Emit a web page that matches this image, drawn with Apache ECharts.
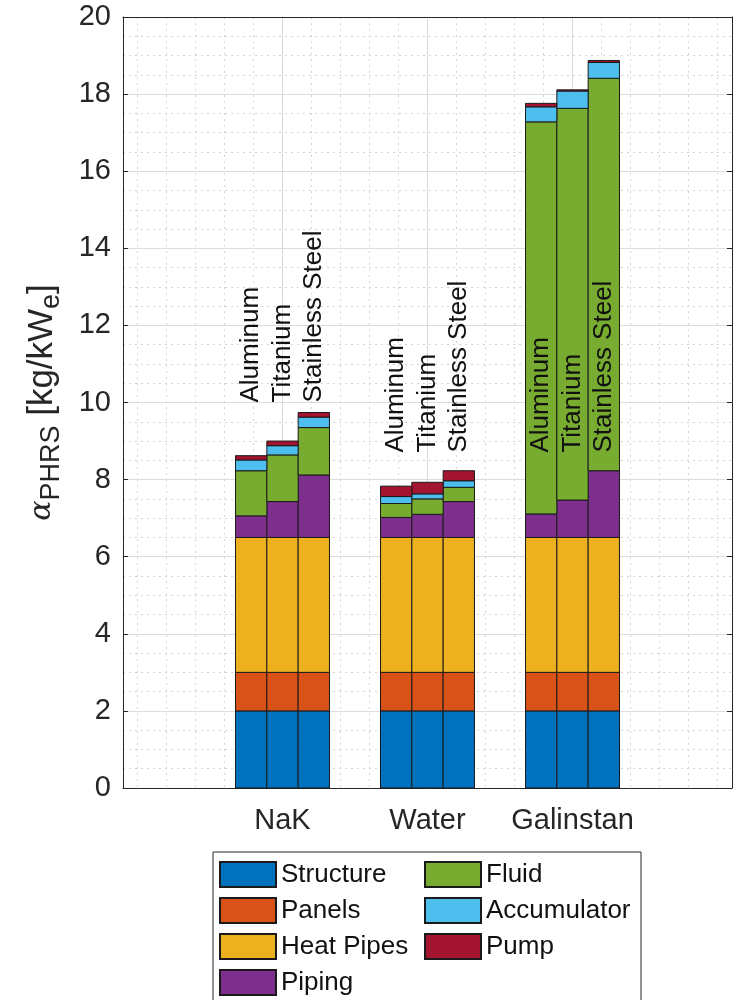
<!DOCTYPE html>
<html>
<head>
<meta charset="utf-8">
<script src="https://cdn.jsdelivr.net/npm/echarts@6/dist/echarts.min.js"></script>
<style>
  html, body { margin: 0; padding: 0; background: #fff; }
  #chart { width: 739px; height: 1000px; }
</style>
</head>
<body>
<div id="chart"></div>
<script>
// categories
const fluids = ["NaK", "Water", "Galinstan"];
const materials = ["Aluminum", "Titanium", "Stainless Steel"];
const components = ["Structure", "Panels", "Heat Pipes", "Piping", "Fluid", "Accumulator", "Pump"];
const colors = ["#0072BD", "#D95319", "#EDB120", "#7E2F8E", "#77AC30", "#4DBEEE", "#A2142F"];

// values, order: NaK (Al, Ti, SS), Water (Al, Ti, SS), Galinstan (Al, Ti, SS)
const structure = [2, 2, 2, 2, 2, 2, 2, 2, 2];
const panels = [1, 1, 1, 1, 1, 1, 1, 1, 1];
const heatPipes = [3.5, 3.5, 3.5, 3.5, 3.5, 3.5, 3.5, 3.5, 3.5];
const piping = [0.56, 0.93, 1.62, 0.52, 0.6, 0.93, 0.61, 0.97, 1.73];
const fluid = [1.17, 1.21, 1.23, 0.36, 0.4, 0.37, 10.17, 10.16, 10.18];
const accumulator = [0.28, 0.24, 0.27, 0.18, 0.13, 0.17, 0.39, 0.45, 0.41];
const pump = [0.11, 0.12, 0.12, 0.27, 0.3, 0.26, 0.09, 0.03, 0.05];

// bar positions on the x axis
const groupPos = [1, 2, 3];
const barOffsets = [-0.216, 0, 0.216];
const barWidth = 0.216;

// where the rotated material labels start, per fluid
const labelBase = [10.0, 8.7, 8.7];

// axis ticks
const xMinorTicks = [0, 0.2, 0.4, 0.6, 0.8, 1, 1.2, 1.4, 1.6, 1.8, 2, 2.2, 2.4, 2.6, 2.8, 3, 3.2, 3.4, 3.6, 3.8, 4];

const fontFam = '"Liberation Sans", Arial, Helvetica, sans-serif';
const values = [structure, panels, heatPipes, piping, fluid, accumulator, pump];

// stack the components
let running = [0, 0, 0, 0, 0, 0, 0, 0, 0];
const barSeries = components.map((name, ci) => {
  const data = [];
  values[ci].forEach((v, i) => {
    const g = Math.floor(i / 3);
    const m = i % 3;
    data.push([groupPos[g] + barOffsets[m], running[i], running[i] + v]);
    running[i] += v;
  });
  return {
    name: name,
    type: "custom",
    z: 3,
    itemStyle: { color: colors[ci], borderColor: "#1a1a1a", borderWidth: 1 },
    encode: { x: 0, y: [1, 2] },
    data: data,
    renderItem: (params, api) => {
      const x = api.value(0);
      const p0 = api.coord([x - barWidth / 2, api.value(2)]);
      const p1 = api.coord([x + barWidth / 2, api.value(1)]);
      return {
        type: "rect",
        shape: { x: p0[0], y: p0[1], width: p1[0] - p0[0], height: p1[1] - p0[1] },
        style: { fill: colors[ci], stroke: "#1a1a1a", lineWidth: 1 },
      };
    },
  };
});

const labelData = [];
groupPos.forEach((gx, g) => {
  barOffsets.forEach((off, m) => {
    labelData.push([gx + off, labelBase[g], m]);
  });
});

const labelSeries = {
  name: "labels",
  type: "custom",
  z: 4,
  silent: true,
  encode: { x: 0, y: 1 },
  data: labelData,
  renderItem: (params, api) => {
    const p = api.coord([api.value(0), api.value(1)]);
    return {
      type: "text",
      x: p[0],
      y: p[1],
      rotation: Math.PI / 2,
      style: {
        text: materials[api.value(2)],
        fill: "#111",
        font: "26px " + fontFam,
        align: "left",
        verticalAlign: "middle",
      },
    };
  },
};

const legendCommon = {
  orient: "vertical",
  top: 861,
  height: 160,
  padding: 0,
  itemWidth: 56,
  itemHeight: 25,
  itemGap: 9,
  icon: "rect",
  z: 5,
  selectedMode: false,
  textStyle: { fontSize: 26, lineHeight: 25, color: "#111", fontFamily: fontFam },
};

const option = {
  animation: false,
  backgroundColor: "#fff",
  grid: { left: 123, right: 7, top: 17, bottom: 212 },
  graphic: [
    {
      type: "rect",
      z: 0,
      shape: { x: 213, y: 852, width: 428, height: 200 },
      style: { fill: "#fff", stroke: "#262626", lineWidth: 1 },
    },
  ],
  legend: [
    Object.assign({}, legendCommon, { left: 219, data: components.slice(0, 4) }),
    Object.assign({}, legendCommon, { left: 424, data: components.slice(4) }),
  ],
  xAxis: [
    {
      type: "value",
      min: -0.1,
      max: 4.1,
      position: "bottom",
      axisLine: { show: true, onZero: false, lineStyle: { color: "#262626", width: 1 } },
      axisTick: { show: true, inside: true, length: 5, customValues: groupPos, lineStyle: { color: "#262626" } },
      axisLabel: {
        customValues: groupPos,
        formatter: (v) => fluids[Math.round(v) - 1],
        fontSize: 29,
        color: "#262626",
        fontFamily: fontFam,
        margin: 18,
      },
      splitLine: { show: true, lineStyle: { color: "#dcdcdc", width: 1 } },
    },
    {
      type: "value",
      min: -0.1,
      max: 4.1,
      position: "top",
      axisLine: { show: true, onZero: false, lineStyle: { color: "#262626", width: 1 } },
      axisTick: { show: false, customValues: xMinorTicks },
      axisLabel: { show: false },
      splitLine: { show: true, lineStyle: { color: "#d4d4d4", width: 1, type: [2, 4] } },
    },
  ],
  yAxis: [
    {
      type: "value",
      min: 0,
      max: 20,
      interval: 2,
      position: "left",
      name: "{a|α}{s|PHRS}{n| [kg/kW}{s|e}{n|]}",
      nameLocation: "middle",
      nameRotate: 90,
      nameGap: 58,
      nameTextStyle: {
        color: "#262626",
        fontFamily: fontFam,
        rich: {
          a: { fontSize: 30, fontFamily: "DejaVu Serif", fontStyle: "italic", color: "#262626" },
          s: { fontSize: 27, color: "#262626", fontFamily: fontFam, padding: [18, 0, 0, 0] },
          n: { fontSize: 35, color: "#262626", fontFamily: fontFam },
        },
      },
      axisLine: { show: true, onZero: false, lineStyle: { color: "#262626", width: 1 } },
      axisTick: { show: true, inside: true, length: 5, lineStyle: { color: "#262626" } },
      axisLabel: { fontSize: 29, color: "#262626", fontFamily: fontFam, margin: 12 },
      splitLine: { show: true, lineStyle: { color: "#dcdcdc", width: 1 } },
      minorTick: { show: false, splitNumber: 4 },
      minorSplitLine: { show: true, lineStyle: { color: "#d4d4d4", width: 1, type: [2, 4] } },
    },
    {
      type: "value",
      min: 0,
      max: 20,
      interval: 2,
      position: "right",
      axisLine: { show: true, onZero: false, lineStyle: { color: "#262626", width: 1 } },
      axisTick: { show: true, inside: true, length: 5, lineStyle: { color: "#262626" } },
      axisLabel: { show: false },
      splitLine: { show: false },
    },
  ],
  series: barSeries.concat([labelSeries]),
};

const chart = echarts.init(document.getElementById("chart"));
chart.setOption(option);
</script>
</body>
</html>
